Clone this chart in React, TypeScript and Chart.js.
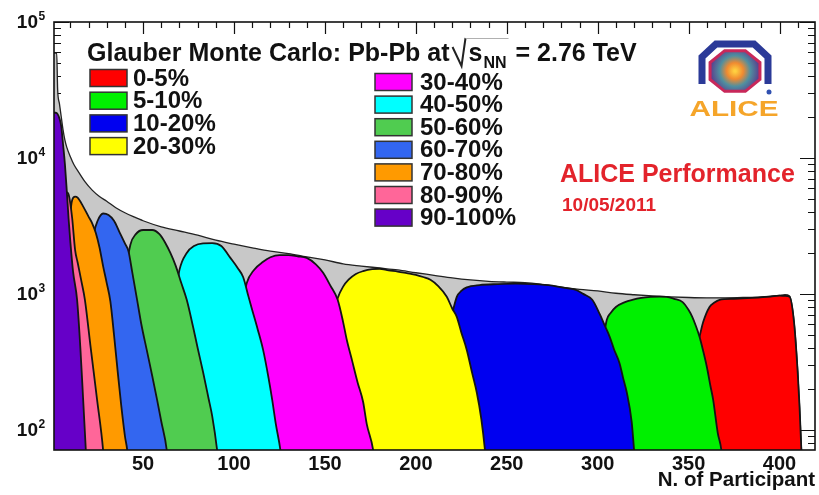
import React, { useEffect, useRef } from "react";
import { Chart, registerables } from "chart.js";

Chart.register(...registerables);

const FONT = "'Liberation Sans', Arial, Helvetica, sans-serif";

// Centrality classes in legend order and their fill colours
const classLabels = ["0-5%", "5-10%", "10-20%", "20-30%", "30-40%", "40-50%", "50-60%", "60-70%", "70-80%", "80-90%", "90-100%"];
const classColors = ["#ff0000", "#00f000", "#0000f0", "#ffff00", "#ff00ff", "#00ffff", "#50cc50", "#3366f0", "#ff9a00", "#ff6699", "#6600c8"];

// Number of participants vs. events for each centrality class
const npart0to5 = [344, 347, 350, 353, 356, 358, 361.5, 364, 367, 375, 385, 395, 400, 403, 405.5, 408, 410, 411, 412, 414];
const events0to5 = [30, 100, 200, 330, 483, 620, 801, 860, 904, 920, 935, 955, 970, 965, 951, 612, 262, 147, 71, 20];

const npart5to10 = [293, 297, 300, 303, 305, 307, 310, 315, 319, 324, 329, 334, 338, 342, 346.7, 350, 352, 354, 356, 358, 360, 362, 363.5, 366, 368, 370];
const events5to10 = [30, 120, 250, 450, 644, 720, 801, 870, 904, 935, 951, 955, 951, 920, 870, 760, 677, 580, 483, 380, 291, 210, 166, 95, 71, 35];

const npart10to20 = [204, 208, 212, 217, 220, 222.5, 225, 228, 235, 245, 255, 265, 275, 283, 288, 292, 297, 301, 304, 306.6, 309, 312, 314, 316, 318.7, 320, 322];
const events10to20 = [30, 100, 250, 500, 716, 951, 1050, 1115, 1160, 1180, 1190, 1180, 1150, 1100, 1070, 1000, 904, 716, 580, 483, 390, 309, 240, 188, 114, 71, 35];

const npart20to30 = [144, 148, 151, 154, 157, 160, 163, 167, 171, 176, 180, 185, 190, 195, 200, 204, 208, 212, 217, 220, 222.5, 225, 228, 231, 233.5, 236, 238, 240];
const events20to30 = [30, 150, 380, 650, 930, 1130, 1270, 1400, 1470, 1520, 1530, 1490, 1460, 1420, 1380, 1330, 1270, 1150, 951, 780, 677, 520, 387, 260, 188, 120, 71, 35];

const npart30to40 = [94, 98, 101, 104, 107, 111, 116, 120, 125, 130, 135, 140, 145, 149, 153, 157, 160, 162, 165, 168, 171, 173, 176.5, 179];
const events30to40 = [30, 150, 400, 750, 1200, 1500, 1720, 1860, 1930, 1930, 1890, 1840, 1650, 1430, 1150, 904, 620, 459, 320, 222, 160, 110, 71, 35];

const npart40to50 = [60, 63, 66, 68, 70, 74, 78, 83, 88, 93, 98, 102, 105, 108, 110, 113, 116, 119, 121, 123, 125.5, 128];
const events40to50 = [30, 200, 600, 1000, 1500, 2000, 2250, 2350, 2360, 2250, 1840, 1550, 1330, 950, 762, 550, 387, 240, 166, 110, 71, 35];

const npart50to60 = [33, 36, 38, 40, 43, 46, 50, 55, 59, 62, 65, 68, 71, 74, 77.5, 80, 83, 86, 88, 90.7, 93];
const events50to60 = [30, 250, 700, 1300, 2300, 2750, 2950, 2950, 2750, 2400, 2000, 1600, 1200, 904, 570, 400, 265, 170, 126, 71, 35];

const npart60to70 = [15, 17, 19, 21, 23, 25, 28, 31, 34, 37, 40, 42, 44, 46.7, 49, 52, 55, 57.7, 60, 63, 65];
const events60to70 = [30, 150, 600, 1700, 2800, 3450, 3900, 3800, 3450, 2850, 2350, 2050, 1450, 904, 600, 387, 250, 166, 115, 71, 35];

const npart70to80 = [7, 8, 9, 10, 11, 12.6, 14, 17, 20, 22, 24, 26, 28, 30, 32, 34, 36, 38, 40, 41.5, 43];
const events70to80 = [30, 400, 1800, 3800, 4900, 5200, 5100, 4400, 3700, 3300, 2800, 2200, 1600, 1200, 880, 500, 270, 150, 90, 66, 30];

const npart80to90 = [3, 4, 5, 6, 7, 8, 9, 10, 11, 12.6, 14, 16, 18, 21, 24.7, 28, 30];
const events80to90 = [30, 300, 2000, 4500, 5500, 5600, 5400, 4600, 3600, 2110, 1700, 1250, 904, 420, 166, 71, 30];

const npart90to100 = [1, 2, 3, 4, 5, 6, 7, 8, 9, 10, 11.5, 13.7, 15.5, 17, 18.5, 20];
const events90to100 = [21500, 21500, 21000, 19500, 17000, 12500, 9000, 5800, 3600, 2400, 1450, 904, 400, 170, 71, 30];

// All events together
const npartAll = [1, 2.5, 3, 4, 5, 6, 7, 8, 10, 12, 15, 18, 22, 26, 30, 35, 40, 45, 50, 60, 70, 80, 90, 100, 110, 120, 130, 140, 150, 160, 170, 180, 190, 200, 210, 220, 230, 240, 250, 260, 270, 280, 290, 300, 310, 320, 330, 340, 350, 360, 370, 380, 390, 400, 403, 405.5, 408, 410, 411, 412, 414];
const eventsAll = [59000, 59000, 32000, 25000, 20000, 16000, 13500, 12000, 10200, 8900, 7700, 6700, 5800, 5200, 4800, 4300, 3950, 3680, 3450, 3110, 2900, 2700, 2480, 2320, 2180, 2060, 1980, 1870, 1780, 1660, 1600, 1550, 1500, 1430, 1370, 1310, 1265, 1235, 1220, 1210, 1170, 1120, 1080, 1050, 1010, 985, 965, 950, 940, 935, 935, 940, 950, 975, 985, 965, 620, 270, 150, 75, 20];

const xLabelTicks = [50, 100, 150, 200, 250, 300, 350, 400];
const yDecades = [2, 3, 4, 5];

const classSeries: [number[], number[]][] = [
  [npart0to5, events0to5],
  [npart5to10, events5to10],
  [npart10to20, events10to20],
  [npart20to30, events20to30],
  [npart30to40, events30to40],
  [npart40to50, events40to50],
  [npart50to60, events50to60],
  [npart60to70, events60to70],
  [npart70to80, events70to80],
  [npart80to90, events80to90],
  [npart90to100, events90to100],
];

const toPoints = (xs: number[], ys: number[]) => xs.map((x, i) => ({ x, y: ys[i] }));

function drawLogo(ctx: CanvasRenderingContext2D) {
  const cx = 735;
  const cy = 71;
  ctx.save();
  // blue outer rim (upper half of an octagon)
  ctx.strokeStyle = "#2b3a98";
  ctx.lineWidth = 7;
  ctx.lineJoin = "miter";
  ctx.beginPath();
  ctx.moveTo(702, 84);
  ctx.lineTo(702, 57);
  ctx.lineTo(716, 44);
  ctx.lineTo(754, 44);
  ctx.lineTo(768, 57);
  ctx.lineTo(768, 84);
  ctx.stroke();
  // inner octagon with the collision burst
  const rx = 27;
  const ry = 22;
  ctx.beginPath();
  for (let k = 0; k < 8; k++) {
    const a = Math.PI / 8 + (k * Math.PI) / 4;
    const px = cx + rx * Math.cos(a);
    const py = cy + ry * Math.sin(a);
    if (k === 0) ctx.moveTo(px, py);
    else ctx.lineTo(px, py);
  }
  ctx.closePath();
  const g = ctx.createRadialGradient(cx, cy, 1, cx, cy, 25);
  g.addColorStop(0, "#ffd040");
  g.addColorStop(0.3, "#f08a30");
  g.addColorStop(0.6, "#4f8fa0");
  g.addColorStop(1, "#5a3c8c");
  ctx.fillStyle = g;
  ctx.fill();
  ctx.strokeStyle = "#c8285a";
  ctx.lineWidth = 3;
  ctx.stroke();
  // small detector figure
  ctx.fillStyle = "#3050b0";
  ctx.beginPath();
  ctx.arc(769, 92, 2.5, 0, Math.PI * 2);
  ctx.fill();
  // logo lettering
  ctx.fillStyle = "#f5a52a";
  ctx.font = `bold 22px ${FONT}`;
  ctx.textAlign = "center";
  ctx.textBaseline = "alphabetic";
  ctx.translate(734, 116);
  ctx.scale(1.35, 1);
  ctx.fillText("ALICE", 0, 0);
  ctx.restore();
}

const decorations = {
  id: "decorations",
  beforeDatasetsDraw(chart: any) {
    const { ctx, chartArea: a, scales } = chart;
    const xs = scales.x;
    const ys = scales.y;
    ctx.save();
    ctx.strokeStyle = "#111";
    ctx.lineWidth = 1.2;
    ctx.beginPath();
    // x ticks on the top and bottom edges
    for (let v = 10; v <= 410; v += 10) {
      const px = Math.round(xs.getPixelForValue(v)) + 0.5;
      const len = v % 50 === 0 ? 12 : 6;
      ctx.moveTo(px, a.top);
      ctx.lineTo(px, a.top + len);
      ctx.moveTo(px, a.bottom);
      ctx.lineTo(px, a.bottom - len);
    }
    // logarithmic y ticks on the left and right edges
    for (let d = 1; d <= 5; d++) {
      for (let m = 1; m <= 9; m++) {
        const v = m * Math.pow(10, d);
        if (v < ys.min || v > ys.max) continue;
        const py = Math.round(ys.getPixelForValue(v)) + 0.5;
        const len = m === 1 ? 15 : 7;
        ctx.moveTo(a.left, py);
        ctx.lineTo(a.left + len, py);
        ctx.moveTo(a.right, py);
        ctx.lineTo(a.right - len, py);
      }
    }
    ctx.stroke();
    ctx.restore();
  },
  afterDatasetsDraw(chart: any) {
    const { ctx, chartArea: a, scales } = chart;
    const xs = scales.x;
    const ys = scales.y;
    ctx.save();
    // frame
    ctx.strokeStyle = "#111";
    ctx.lineWidth = 1.6;
    ctx.strokeRect(a.left, a.top, a.right - a.left, a.bottom - a.top);

    ctx.fillStyle = "#111";
    // x tick labels
    ctx.font = `bold 20px ${FONT}`;
    ctx.textAlign = "center";
    ctx.textBaseline = "middle";
    xLabelTicks.forEach((v) => ctx.fillText(String(v), xs.getPixelForValue(v), 464));
    // x title
    ctx.textAlign = "right";
    ctx.textBaseline = "alphabetic";
    ctx.font = `bold 20.5px ${FONT}`;
    ctx.fillText("N. of Participant", a.right, 486);

    // y tick labels as powers of ten
    yDecades.forEach((d) => {
      const py = ys.getPixelForValue(Math.pow(10, d));
      ctx.font = `bold 19px ${FONT}`;
      ctx.textAlign = "right";
      ctx.textBaseline = "middle";
      ctx.fillText("10", 38, py + 1);
      ctx.font = `bold 12px ${FONT}`;
      ctx.textAlign = "left";
      ctx.fillText(String(d), 38.5, py - 5);
    });

    // heading with sqrt(s_NN)
    ctx.textAlign = "left";
    ctx.textBaseline = "alphabetic";
    ctx.font = `bold 25px ${FONT}`;
    const base = 61;
    let x = 87;
    const head = "Glauber Monte Carlo: Pb-Pb at";
    ctx.fillText(head, x, base);
    x += ctx.measureText(head).width + 3;
    const sW = ctx.measureText("s").width;
    ctx.font = `bold 16px ${FONT}`;
    const nnW = ctx.measureText("NN").width;
    // radical sign
    ctx.strokeStyle = "#222";
    ctx.lineWidth = 2;
    ctx.beginPath();
    ctx.moveTo(x, base - 14);
    ctx.lineTo(x + 9, base + 5);
    ctx.lineTo(x + 13, base - 23);
    ctx.stroke();
    ctx.strokeStyle = "#b0b0b0";
    ctx.lineWidth = 1;
    ctx.beginPath();
    ctx.moveTo(x + 13, base - 22.5);
    ctx.lineTo(x + 16 + sW + nnW + 3, base - 22.5);
    ctx.stroke();
    x += 16;
    ctx.font = `bold 25px ${FONT}`;
    ctx.fillText("s", x, base);
    x += sW + 1;
    ctx.font = `bold 16px ${FONT}`;
    ctx.fillText("NN", x, base + 7);
    x += nnW + 2;
    ctx.font = `bold 25px ${FONT}`;
    ctx.fillText(" = 2.76 TeV", x, base);

    // two-column legend
    const drawEntry = (i: number, bx: number, tx: number, cy: number) => {
      ctx.fillStyle = classColors[i];
      ctx.fillRect(bx, cy - 8.5, 37, 17);
      ctx.strokeStyle = "#333";
      ctx.lineWidth = 1.5;
      ctx.strokeRect(bx, cy - 8.5, 37, 17);
      ctx.fillStyle = "#111";
      ctx.font = `bold 24px ${FONT}`;
      ctx.textAlign = "left";
      ctx.textBaseline = "middle";
      ctx.fillText(classLabels[i], tx, cy + 1);
    };
    for (let i = 0; i < 4; i++) drawEntry(i, 90, 133, 78 + i * 22.7);
    for (let i = 4; i < classLabels.length; i++) drawEntry(i, 375, 420, 82 + (i - 4) * 22.6);

    // performance label
    ctx.fillStyle = "#e3232b";
    ctx.textAlign = "left";
    ctx.textBaseline = "alphabetic";
    ctx.font = `bold 25px ${FONT}`;
    ctx.fillText("ALICE Performance", 560, 182);
    ctx.font = `bold 19px ${FONT}`;
    ctx.fillText("10/05/2011", 562, 211);

    drawLogo(ctx);
    ctx.restore();
  },
};

export default function App() {
  const canvasRef = useRef<HTMLCanvasElement | null>(null);

  useEffect(() => {
    document.body.style.margin = "0";
    document.body.style.background = "#ffffff";
    const canvas = canvasRef.current;
    if (!canvas) return;

    const datasets: any[] = [];
    // peripheral classes are drawn on top of the central ones
    for (let i = classSeries.length - 1; i >= 0; i--) {
      const [xs, ys] = classSeries[i];
      datasets.push({
        label: classLabels[i],
        data: toPoints(xs, ys),
        backgroundColor: classColors[i],
        borderColor: "#151515",
        borderWidth: 1.8,
        fill: "start",
        pointRadius: 0,
        cubicInterpolationMode: "monotone",
      });
    }
    datasets.push({
      label: "all",
      data: toPoints(npartAll, eventsAll),
      backgroundColor: "#c8c8c8",
      borderColor: "#222",
      borderWidth: 1.3,
      fill: "start",
      pointRadius: 0,
      cubicInterpolationMode: "monotone",
    });

    const chart = new Chart(canvas, {
      type: "line",
      data: { datasets },
      options: {
        responsive: false,
        animation: false,
        devicePixelRatio: 1,
        events: [],
        layout: { padding: { left: 0, top: 22, right: 4, bottom: 0 } },
        plugins: {
          legend: { display: false },
          tooltip: { enabled: false },
          title: { display: false },
        },
        scales: {
          x: {
            type: "linear",
            min: 1,
            max: 419.5,
            grid: { display: false },
            border: { display: false },
            ticks: { display: false },
            afterFit: (s: any) => {
              s.height = 45;
            },
          },
          y: {
            type: "logarithmic",
            min: 71,
            max: 100000,
            grid: { display: false },
            border: { display: false },
            ticks: { display: false },
            afterFit: (s: any) => {
              s.width = 54;
            },
          },
        },
      } as any,
      plugins: [decorations],
    });

    return () => chart.destroy();
  }, []);

  return (
    <div style={{ width: 819, height: 495, position: "relative" }}>
      <canvas ref={canvasRef} width={819} height={495} />
    </div>
  );
}
